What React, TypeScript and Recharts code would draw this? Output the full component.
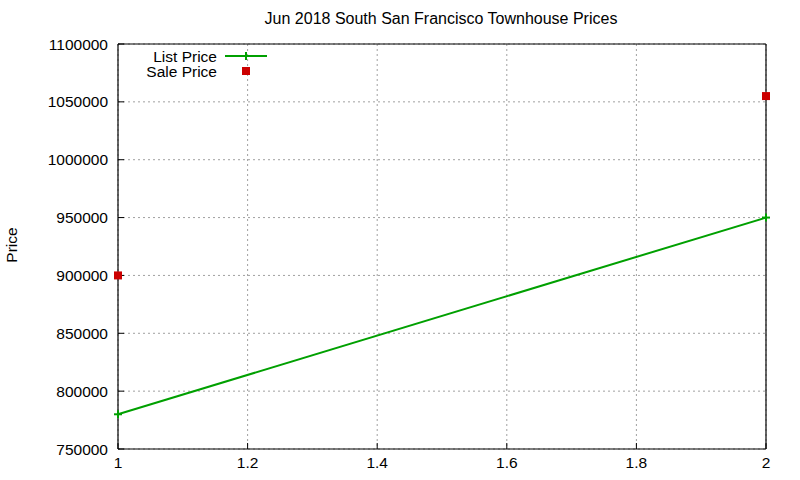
import React from "react";
import {
  ComposedChart,
  Line,
  Scatter,
  XAxis,
  YAxis,
  CartesianGrid,
} from "recharts";

const title = "Jun 2018 South San Francisco Townhouse Prices";
const yLabel = "Price";
const listSeriesName = "List Price";
const saleSeriesName = "Sale Price";

const listX = [1, 2];
const listPrice = [780000, 950000];
const saleX = [1, 2];
const salePrice = [900000, 1055000];

const xTicks = [1, 1.2, 1.4, 1.6, 1.8, 2];
const yTicks = [750000, 800000, 850000, 900000, 950000, 1000000, 1050000, 1100000];

const listData = listX.map((x, i) => ({ x, list: listPrice[i] }));
const saleData = saleX.map((x, i) => ({ x, sale: salePrice[i] }));

const GREEN = "#00a000";
const RED = "#cc0000";
const FONT = "'Liberation Sans', Arial, sans-serif";

const PlusDot = (props: any) => {
  const { cx, cy } = props;
  if (cx == null || cy == null) return null;
  return (
    <g>
      <line x1={cx - 4} y1={cy} x2={cx + 4} y2={cy} stroke={GREEN} strokeWidth={2} />
      <line x1={cx} y1={cy - 4} x2={cx} y2={cy + 4} stroke={GREEN} strokeWidth={2} />
    </g>
  );
};

const SquareDot = (props: any) => {
  const { cx, cy } = props;
  if (cx == null || cy == null) return null;
  return <rect x={cx - 4} y={cy - 4} width={8} height={8} fill={RED} />;
};

const LegendBox = () => (
  <svg width={180} height={36} style={{ position: "absolute", left: 118, top: 49, overflow: "visible" }}>
    <text x={99} y={7} textAnchor="end" dominantBaseline="central" fontFamily={FONT} fontSize={15.5} fill="#000">
      {listSeriesName}
    </text>
    <line x1={107} y1={7} x2={149} y2={7} stroke={GREEN} strokeWidth={2} />
    <line x1={128} y1={3} x2={128} y2={11} stroke={GREEN} strokeWidth={2} />
    <text x={99} y={22} textAnchor="end" dominantBaseline="central" fontFamily={FONT} fontSize={15.5} fill="#000">
      {saleSeriesName}
    </text>
    <rect x={124} y={18} width={8} height={8} fill={RED} />
  </svg>
);

export default function App() {
  return (
    <div style={{ position: "absolute", left: 0, top: 0, width: 800, height: 480, background: "#fff" }}>
      <ComposedChart
        width={800}
        height={480}
        margin={{ top: 43, right: 33, bottom: 0, left: 47 }}
        style={{ position: "absolute", left: 0, top: 0 }}
      >
        <CartesianGrid
          xAxisId="bottom"
          yAxisId="left"
          stroke="#a0a0a0"
          strokeDasharray="2 3"
          verticalValues={xTicks}
          horizontalValues={yTicks}
        />
        <XAxis
          xAxisId="bottom"
          dataKey="x"
          type="number"
          domain={[1, 2]}
          ticks={xTicks}
          height={31}
          axisLine={{ stroke: "#000", strokeWidth: 1.2 }}
          tickLine={{ stroke: "#000" }}
          tickSize={-6}
          tickMargin={14}
          tick={{ fill: "#000", fontFamily: FONT, fontSize: 15.5 }}
          tickFormatter={(v: number) => String(Math.round(v * 10) / 10)}
        />
        <XAxis
          xAxisId="top"
          orientation="top"
          dataKey="x"
          type="number"
          domain={[1, 2]}
          ticks={xTicks}
          height={1}
          axisLine={{ stroke: "#000", strokeWidth: 1.2 }}
          tickLine={{ stroke: "#000" }}
          tickSize={-6}
          tick={false}
        />
        <YAxis
          yAxisId="left"
          type="number"
          domain={[750000, 1100000]}
          ticks={yTicks}
          width={71}
          axisLine={{ stroke: "#000", strokeWidth: 1.2 }}
          tickLine={{ stroke: "#000" }}
          tickSize={-6}
          tickMargin={16}
          tick={{ fill: "#000", fontFamily: FONT, fontSize: 15.5 }}
        />
        <YAxis
          yAxisId="right"
          orientation="right"
          type="number"
          domain={[750000, 1100000]}
          ticks={yTicks}
          width={1}
          axisLine={{ stroke: "#000", strokeWidth: 1.2 }}
          tickLine={{ stroke: "#000" }}
          tickSize={-6}
          tick={false}
        />
        <Line
          data={listData}
          xAxisId="bottom"
          yAxisId="left"
          dataKey="list"
          name={listSeriesName}
          stroke={GREEN}
          strokeWidth={2}
          dot={<PlusDot />}
          activeDot={false}
          isAnimationActive={false}
        />
        <Scatter
          data={saleData}
          xAxisId="bottom"
          yAxisId="left"
          dataKey="sale"
          name={saleSeriesName}
          fill={RED}
          shape={<SquareDot />}
          isAnimationActive={false}
        />
      </ComposedChart>
      <div
        style={{
          position: "absolute",
          left: 0,
          top: 10,
          width: 882,
          textAlign: "center",
          fontFamily: FONT,
          fontSize: 16,
          color: "#000",
        }}
      >
        {title}
      </div>
      <div
        style={{
          position: "absolute",
          left: -8,
          top: 236,
          width: 40,
          textAlign: "center",
          fontFamily: FONT,
          fontSize: 15.5,
          transform: "rotate(-90deg)",
        }}
      >
        {yLabel}
      </div>
      <LegendBox />
    </div>
  );
}
